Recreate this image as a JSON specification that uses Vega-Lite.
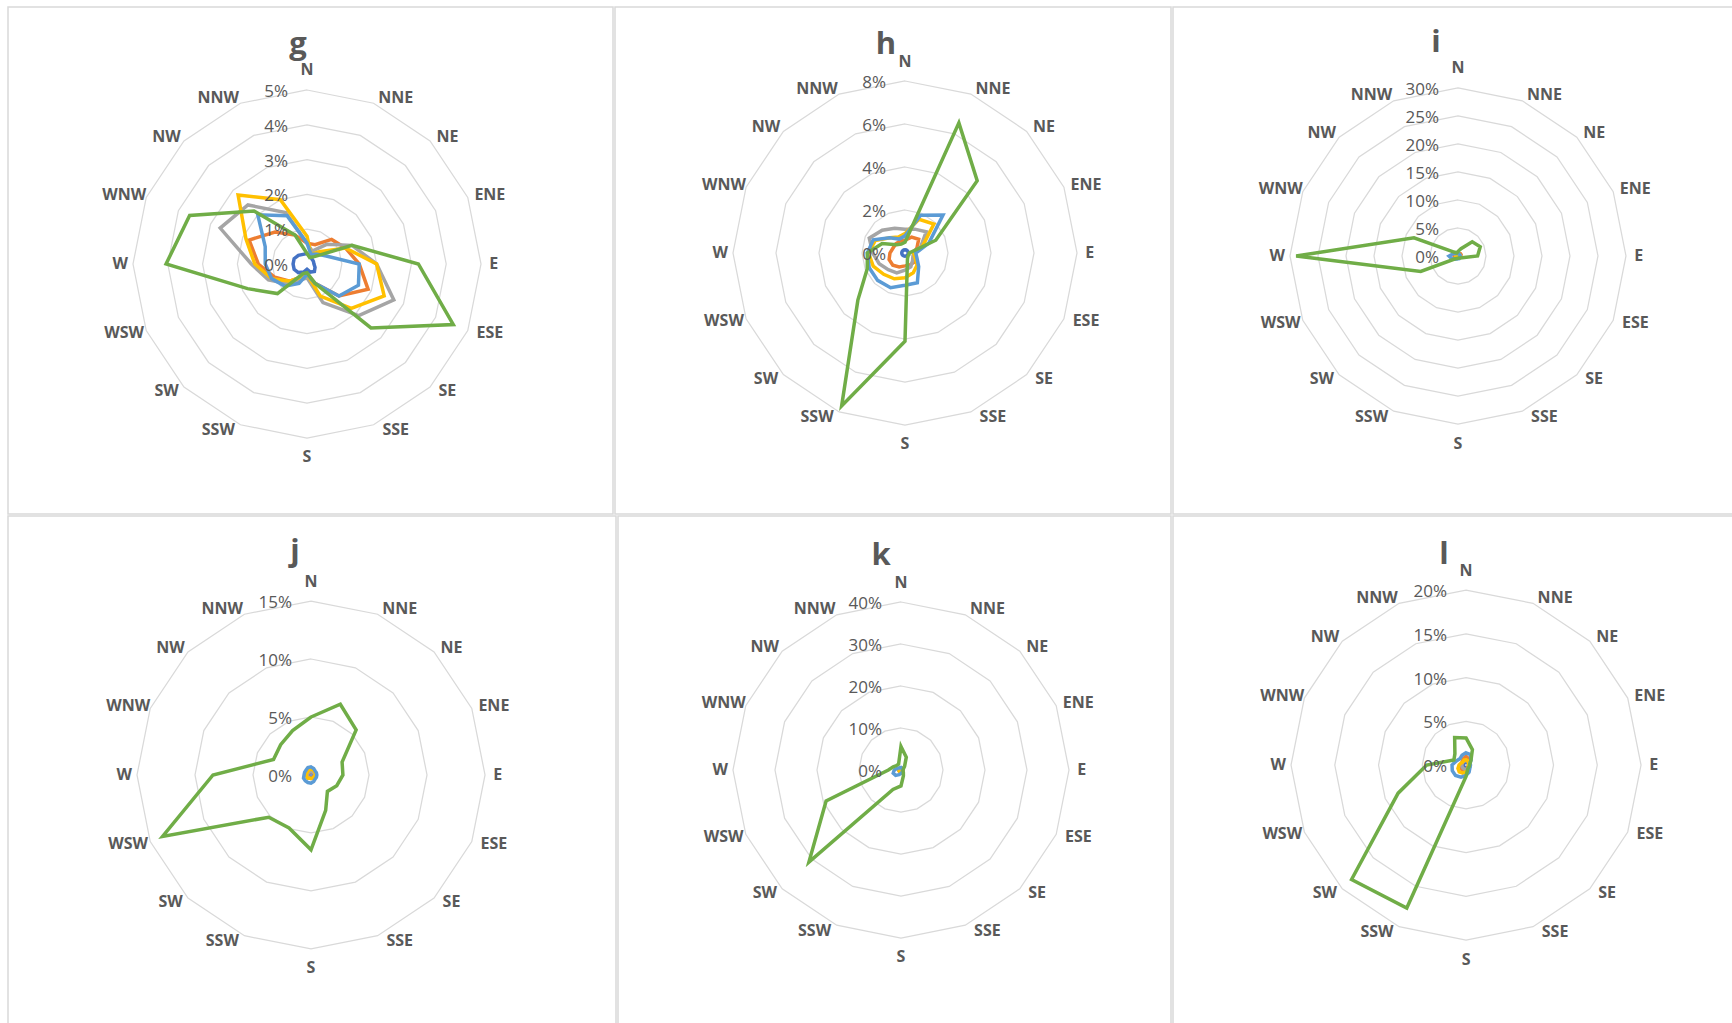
{
"$schema":"https://vega.github.io/schema/vega-lite/v6.json",
"padding":{"left":7,"top":6,"right":4,"bottom":0},
"background":"white",
"config":{"view":{"stroke":"#d9d9d9","strokeWidth":1.5},"concat":{"spacing":0}},
"datasets":{"series":[
{"p":"g","s":1,"d":"N","v":0.3},{"p":"g","s":1,"d":"NNE","v":0.25},{"p":"g","s":1,"d":"NE","v":0.2},{"p":"g","s":1,"d":"ENE","v":0.2},{"p":"g","s":1,"d":"E","v":0.2},{"p":"g","s":1,"d":"ESE","v":0.25},{"p":"g","s":1,"d":"SE","v":0.3},{"p":"g","s":1,"d":"SSE","v":0.25},{"p":"g","s":1,"d":"S","v":0.15},{"p":"g","s":1,"d":"SSW","v":0.25},{"p":"g","s":1,"d":"SW","v":0.35},{"p":"g","s":1,"d":"WSW","v":0.4},{"p":"g","s":1,"d":"W","v":0.4},{"p":"g","s":1,"d":"WNW","v":0.4},{"p":"g","s":1,"d":"NW","v":0.35},{"p":"g","s":1,"d":"NNW","v":0.3},
{"p":"g","s":2,"d":"N","v":0.6},{"p":"g","s":2,"d":"NNE","v":0.6},{"p":"g","s":2,"d":"NE","v":1.0},{"p":"g","s":2,"d":"ENE","v":1.2},{"p":"g","s":2,"d":"E","v":1.5},{"p":"g","s":2,"d":"ESE","v":1.9},{"p":"g","s":2,"d":"SE","v":1.3},{"p":"g","s":2,"d":"SSE","v":0.6},{"p":"g","s":2,"d":"S","v":0.3},{"p":"g","s":2,"d":"SSW","v":0.4},{"p":"g","s":2,"d":"SW","v":0.7},{"p":"g","s":2,"d":"WSW","v":1.0},{"p":"g","s":2,"d":"W","v":1.4},{"p":"g","s":2,"d":"WNW","v":1.8},{"p":"g","s":2,"d":"NW","v":1.3},{"p":"g","s":2,"d":"NNW","v":0.9},
{"p":"g","s":3,"d":"N","v":0.6},{"p":"g","s":3,"d":"NNE","v":0.4},{"p":"g","s":3,"d":"NE","v":0.8},{"p":"g","s":3,"d":"ENE","v":1.4},{"p":"g","s":3,"d":"E","v":2.0},{"p":"g","s":3,"d":"ESE","v":2.7},{"p":"g","s":3,"d":"SE","v":2.1},{"p":"g","s":3,"d":"SSE","v":1.2},{"p":"g","s":3,"d":"S","v":0.4},{"p":"g","s":3,"d":"SSW","v":0.5},{"p":"g","s":3,"d":"SW","v":0.8},{"p":"g","s":3,"d":"WSW","v":1.2},{"p":"g","s":3,"d":"W","v":1.6},{"p":"g","s":3,"d":"WNW","v":2.7},{"p":"g","s":3,"d":"NW","v":2.4},{"p":"g","s":3,"d":"NNW","v":1.6},
{"p":"g","s":4,"d":"N","v":0.8},{"p":"g","s":4,"d":"NNE","v":0.3},{"p":"g","s":4,"d":"NE","v":0.5},{"p":"g","s":4,"d":"ENE","v":1.2},{"p":"g","s":4,"d":"E","v":2.0},{"p":"g","s":4,"d":"ESE","v":2.4},{"p":"g","s":4,"d":"SE","v":1.8},{"p":"g","s":4,"d":"SSE","v":1.0},{"p":"g","s":4,"d":"S","v":0.3},{"p":"g","s":4,"d":"SSW","v":0.4},{"p":"g","s":4,"d":"SW","v":0.7},{"p":"g","s":4,"d":"WSW","v":1.1},{"p":"g","s":4,"d":"W","v":1.5},{"p":"g","s":4,"d":"WNW","v":1.9},{"p":"g","s":4,"d":"NW","v":2.8},{"p":"g","s":4,"d":"NNW","v":2.0},
{"p":"g","s":5,"d":"N","v":0.6},{"p":"g","s":5,"d":"NNE","v":0.3},{"p":"g","s":5,"d":"NE","v":0.4},{"p":"g","s":5,"d":"ENE","v":0.6},{"p":"g","s":5,"d":"E","v":1.5},{"p":"g","s":5,"d":"ESE","v":1.6},{"p":"g","s":5,"d":"SE","v":1.3},{"p":"g","s":5,"d":"SSE","v":0.6},{"p":"g","s":5,"d":"S","v":0.3},{"p":"g","s":5,"d":"SSW","v":0.6},{"p":"g","s":5,"d":"SW","v":0.9},{"p":"g","s":5,"d":"WSW","v":1.1},{"p":"g","s":5,"d":"W","v":1.2},{"p":"g","s":5,"d":"WNW","v":1.3},{"p":"g","s":5,"d":"NW","v":2.0},{"p":"g","s":5,"d":"NNW","v":1.5},
{"p":"g","s":6,"d":"N","v":0.3},{"p":"g","s":6,"d":"NNE","v":0.2},{"p":"g","s":6,"d":"NE","v":0.3},{"p":"g","s":6,"d":"ENE","v":1.4},{"p":"g","s":6,"d":"E","v":3.2},{"p":"g","s":6,"d":"ESE","v":4.55},{"p":"g","s":6,"d":"SE","v":2.6},{"p":"g","s":6,"d":"SSE","v":0.6},{"p":"g","s":6,"d":"S","v":0.25},{"p":"g","s":6,"d":"SSW","v":0.3},{"p":"g","s":6,"d":"SW","v":1.2},{"p":"g","s":6,"d":"WSW","v":1.85},{"p":"g","s":6,"d":"W","v":4.05},{"p":"g","s":6,"d":"WNW","v":3.65},{"p":"g","s":6,"d":"NW","v":2.15},{"p":"g","s":6,"d":"NNW","v":0.9},
{"p":"h","s":1,"d":"N","v":0.15},{"p":"h","s":1,"d":"NNE","v":0.15},{"p":"h","s":1,"d":"NE","v":0.15},{"p":"h","s":1,"d":"ENE","v":0.15},{"p":"h","s":1,"d":"E","v":0.15},{"p":"h","s":1,"d":"ESE","v":0.15},{"p":"h","s":1,"d":"SE","v":0.15},{"p":"h","s":1,"d":"SSE","v":0.15},{"p":"h","s":1,"d":"S","v":0.15},{"p":"h","s":1,"d":"SSW","v":0.15},{"p":"h","s":1,"d":"SW","v":0.15},{"p":"h","s":1,"d":"WSW","v":0.15},{"p":"h","s":1,"d":"W","v":0.15},{"p":"h","s":1,"d":"WNW","v":0.15},{"p":"h","s":1,"d":"NW","v":0.15},{"p":"h","s":1,"d":"NNW","v":0.15},
{"p":"h","s":2,"d":"N","v":0.6},{"p":"h","s":2,"d":"NNE","v":0.8},{"p":"h","s":2,"d":"NE","v":0.9},{"p":"h","s":2,"d":"ENE","v":0.6},{"p":"h","s":2,"d":"E","v":0.4},{"p":"h","s":2,"d":"ESE","v":0.5},{"p":"h","s":2,"d":"SE","v":0.6},{"p":"h","s":2,"d":"SSE","v":0.6},{"p":"h","s":2,"d":"S","v":0.6},{"p":"h","s":2,"d":"SSW","v":0.7},{"p":"h","s":2,"d":"SW","v":0.8},{"p":"h","s":2,"d":"WSW","v":0.8},{"p":"h","s":2,"d":"W","v":0.7},{"p":"h","s":2,"d":"WNW","v":0.6},{"p":"h","s":2,"d":"NW","v":0.6},{"p":"h","s":2,"d":"NNW","v":0.6},
{"p":"h","s":3,"d":"N","v":1.1},{"p":"h","s":3,"d":"NNE","v":1.2},{"p":"h","s":3,"d":"NE","v":1.4},{"p":"h","s":3,"d":"ENE","v":0.8},{"p":"h","s":3,"d":"E","v":0.4},{"p":"h","s":3,"d":"ESE","v":0.4},{"p":"h","s":3,"d":"SE","v":0.5},{"p":"h","s":3,"d":"SSE","v":0.7},{"p":"h","s":3,"d":"S","v":0.8},{"p":"h","s":3,"d":"SSW","v":1.0},{"p":"h","s":3,"d":"SW","v":1.1},{"p":"h","s":3,"d":"WSW","v":1.3},{"p":"h","s":3,"d":"W","v":1.5},{"p":"h","s":3,"d":"WNW","v":1.8},{"p":"h","s":3,"d":"NW","v":1.5},{"p":"h","s":3,"d":"NNW","v":1.25},
{"p":"h","s":4,"d":"N","v":0.9},{"p":"h","s":4,"d":"NNE","v":1.7},{"p":"h","s":4,"d":"NE","v":1.9},{"p":"h","s":4,"d":"ENE","v":0.9},{"p":"h","s":4,"d":"E","v":0.4},{"p":"h","s":4,"d":"ESE","v":0.5},{"p":"h","s":4,"d":"SE","v":0.8},{"p":"h","s":4,"d":"SSE","v":1.0},{"p":"h","s":4,"d":"S","v":1.15},{"p":"h","s":4,"d":"SSW","v":1.3},{"p":"h","s":4,"d":"SW","v":1.4},{"p":"h","s":4,"d":"WSW","v":1.6},{"p":"h","s":4,"d":"W","v":1.7},{"p":"h","s":4,"d":"WNW","v":1.5},{"p":"h","s":4,"d":"NW","v":1.0},{"p":"h","s":4,"d":"NNW","v":0.8},
{"p":"h","s":5,"d":"N","v":0.8},{"p":"h","s":5,"d":"NNE","v":1.9},{"p":"h","s":5,"d":"NE","v":2.5},{"p":"h","s":5,"d":"ENE","v":1.2},{"p":"h","s":5,"d":"E","v":0.5},{"p":"h","s":5,"d":"ESE","v":0.6},{"p":"h","s":5,"d":"SE","v":0.9},{"p":"h","s":5,"d":"SSE","v":1.5},{"p":"h","s":5,"d":"S","v":1.5},{"p":"h","s":5,"d":"SSW","v":1.75},{"p":"h","s":5,"d":"SW","v":1.8},{"p":"h","s":5,"d":"WSW","v":1.8},{"p":"h","s":5,"d":"W","v":1.75},{"p":"h","s":5,"d":"WNW","v":1.6},{"p":"h","s":5,"d":"NW","v":1.0},{"p":"h","s":5,"d":"NNW","v":0.7},
{"p":"h","s":6,"d":"N","v":0.5},{"p":"h","s":6,"d":"NNE","v":6.55},{"p":"h","s":6,"d":"NE","v":4.75},{"p":"h","s":6,"d":"ENE","v":1.55},{"p":"h","s":6,"d":"E","v":0.2},{"p":"h","s":6,"d":"ESE","v":0.2},{"p":"h","s":6,"d":"SE","v":0.2},{"p":"h","s":6,"d":"SSE","v":0.3},{"p":"h","s":6,"d":"S","v":4.1},{"p":"h","s":6,"d":"SSW","v":7.7},{"p":"h","s":6,"d":"SW","v":3.1},{"p":"h","s":6,"d":"WSW","v":1.9},{"p":"h","s":6,"d":"W","v":1.75},{"p":"h","s":6,"d":"WNW","v":1.15},{"p":"h","s":6,"d":"NW","v":0.55},{"p":"h","s":6,"d":"NNW","v":0.45},
{"p":"i","s":1,"d":"N","v":0.3},{"p":"i","s":1,"d":"NNE","v":0.3},{"p":"i","s":1,"d":"NE","v":0.3},{"p":"i","s":1,"d":"ENE","v":0.3},{"p":"i","s":1,"d":"E","v":0.3},{"p":"i","s":1,"d":"ESE","v":0.3},{"p":"i","s":1,"d":"SE","v":0.3},{"p":"i","s":1,"d":"SSE","v":0.3},{"p":"i","s":1,"d":"S","v":0.3},{"p":"i","s":1,"d":"SSW","v":0.3},{"p":"i","s":1,"d":"SW","v":0.3},{"p":"i","s":1,"d":"WSW","v":0.3},{"p":"i","s":1,"d":"W","v":0.3},{"p":"i","s":1,"d":"WNW","v":0.3},{"p":"i","s":1,"d":"NW","v":0.3},{"p":"i","s":1,"d":"NNW","v":0.3},
{"p":"i","s":2,"d":"N","v":0.5},{"p":"i","s":2,"d":"NNE","v":0.5},{"p":"i","s":2,"d":"NE","v":0.6},{"p":"i","s":2,"d":"ENE","v":0.6},{"p":"i","s":2,"d":"E","v":0.5},{"p":"i","s":2,"d":"ESE","v":0.4},{"p":"i","s":2,"d":"SE","v":0.4},{"p":"i","s":2,"d":"SSE","v":0.4},{"p":"i","s":2,"d":"S","v":0.4},{"p":"i","s":2,"d":"SSW","v":0.4},{"p":"i","s":2,"d":"SW","v":0.5},{"p":"i","s":2,"d":"WSW","v":0.6},{"p":"i","s":2,"d":"W","v":0.7},{"p":"i","s":2,"d":"WNW","v":0.6},{"p":"i","s":2,"d":"NW","v":0.5},{"p":"i","s":2,"d":"NNW","v":0.5},
{"p":"i","s":3,"d":"N","v":0.4},{"p":"i","s":3,"d":"NNE","v":0.4},{"p":"i","s":3,"d":"NE","v":0.4},{"p":"i","s":3,"d":"ENE","v":0.4},{"p":"i","s":3,"d":"E","v":0.4},{"p":"i","s":3,"d":"ESE","v":0.4},{"p":"i","s":3,"d":"SE","v":0.4},{"p":"i","s":3,"d":"SSE","v":0.4},{"p":"i","s":3,"d":"S","v":0.4},{"p":"i","s":3,"d":"SSW","v":0.4},{"p":"i","s":3,"d":"SW","v":0.4},{"p":"i","s":3,"d":"WSW","v":0.4},{"p":"i","s":3,"d":"W","v":0.4},{"p":"i","s":3,"d":"WNW","v":0.4},{"p":"i","s":3,"d":"NW","v":0.4},{"p":"i","s":3,"d":"NNW","v":0.4},
{"p":"i","s":4,"d":"N","v":0.4},{"p":"i","s":4,"d":"NNE","v":0.4},{"p":"i","s":4,"d":"NE","v":0.4},{"p":"i","s":4,"d":"ENE","v":0.4},{"p":"i","s":4,"d":"E","v":0.4},{"p":"i","s":4,"d":"ESE","v":0.4},{"p":"i","s":4,"d":"SE","v":0.4},{"p":"i","s":4,"d":"SSE","v":0.4},{"p":"i","s":4,"d":"S","v":0.4},{"p":"i","s":4,"d":"SSW","v":0.4},{"p":"i","s":4,"d":"SW","v":0.4},{"p":"i","s":4,"d":"WSW","v":0.4},{"p":"i","s":4,"d":"W","v":0.4},{"p":"i","s":4,"d":"WNW","v":0.4},{"p":"i","s":4,"d":"NW","v":0.4},{"p":"i","s":4,"d":"NNW","v":0.4},
{"p":"i","s":5,"d":"N","v":0.5},{"p":"i","s":5,"d":"NNE","v":0.4},{"p":"i","s":5,"d":"NE","v":0.4},{"p":"i","s":5,"d":"ENE","v":0.4},{"p":"i","s":5,"d":"E","v":0.4},{"p":"i","s":5,"d":"ESE","v":0.4},{"p":"i","s":5,"d":"SE","v":0.4},{"p":"i","s":5,"d":"SSE","v":0.5},{"p":"i","s":5,"d":"S","v":0.5},{"p":"i","s":5,"d":"SSW","v":0.6},{"p":"i","s":5,"d":"SW","v":0.8},{"p":"i","s":5,"d":"WSW","v":1.2},{"p":"i","s":5,"d":"W","v":1.6},{"p":"i","s":5,"d":"WNW","v":1.0},{"p":"i","s":5,"d":"NW","v":0.6},{"p":"i","s":5,"d":"NNW","v":0.5},
{"p":"i","s":6,"d":"N","v":0.8},{"p":"i","s":6,"d":"NNE","v":1.4},{"p":"i","s":6,"d":"NE","v":3.6},{"p":"i","s":6,"d":"ENE","v":4.3},{"p":"i","s":6,"d":"E","v":3.5},{"p":"i","s":6,"d":"ESE","v":0.8},{"p":"i","s":6,"d":"SE","v":0.5},{"p":"i","s":6,"d":"SSE","v":0.4},{"p":"i","s":6,"d":"S","v":0.4},{"p":"i","s":6,"d":"SSW","v":0.5},{"p":"i","s":6,"d":"SW","v":0.7},{"p":"i","s":6,"d":"WSW","v":7.2},{"p":"i","s":6,"d":"W","v":28.9},{"p":"i","s":6,"d":"WNW","v":8.5},{"p":"i","s":6,"d":"NW","v":1.0},{"p":"i","s":6,"d":"NNW","v":0.6},
{"p":"j","s":1,"d":"N","v":0.2},{"p":"j","s":1,"d":"NNE","v":0.2},{"p":"j","s":1,"d":"NE","v":0.2},{"p":"j","s":1,"d":"ENE","v":0.2},{"p":"j","s":1,"d":"E","v":0.2},{"p":"j","s":1,"d":"ESE","v":0.2},{"p":"j","s":1,"d":"SE","v":0.2},{"p":"j","s":1,"d":"SSE","v":0.2},{"p":"j","s":1,"d":"S","v":0.2},{"p":"j","s":1,"d":"SSW","v":0.2},{"p":"j","s":1,"d":"SW","v":0.2},{"p":"j","s":1,"d":"WSW","v":0.2},{"p":"j","s":1,"d":"W","v":0.2},{"p":"j","s":1,"d":"WNW","v":0.2},{"p":"j","s":1,"d":"NW","v":0.2},{"p":"j","s":1,"d":"NNW","v":0.2},
{"p":"j","s":2,"d":"N","v":0.3},{"p":"j","s":2,"d":"NNE","v":0.3},{"p":"j","s":2,"d":"NE","v":0.3},{"p":"j","s":2,"d":"ENE","v":0.3},{"p":"j","s":2,"d":"E","v":0.3},{"p":"j","s":2,"d":"ESE","v":0.3},{"p":"j","s":2,"d":"SE","v":0.3},{"p":"j","s":2,"d":"SSE","v":0.3},{"p":"j","s":2,"d":"S","v":0.3},{"p":"j","s":2,"d":"SSW","v":0.3},{"p":"j","s":2,"d":"SW","v":0.3},{"p":"j","s":2,"d":"WSW","v":0.3},{"p":"j","s":2,"d":"W","v":0.3},{"p":"j","s":2,"d":"WNW","v":0.3},{"p":"j","s":2,"d":"NW","v":0.3},{"p":"j","s":2,"d":"NNW","v":0.3},
{"p":"j","s":3,"d":"N","v":0.3},{"p":"j","s":3,"d":"NNE","v":0.3},{"p":"j","s":3,"d":"NE","v":0.3},{"p":"j","s":3,"d":"ENE","v":0.3},{"p":"j","s":3,"d":"E","v":0.3},{"p":"j","s":3,"d":"ESE","v":0.3},{"p":"j","s":3,"d":"SE","v":0.3},{"p":"j","s":3,"d":"SSE","v":0.3},{"p":"j","s":3,"d":"S","v":0.3},{"p":"j","s":3,"d":"SSW","v":0.3},{"p":"j","s":3,"d":"SW","v":0.3},{"p":"j","s":3,"d":"WSW","v":0.3},{"p":"j","s":3,"d":"W","v":0.3},{"p":"j","s":3,"d":"WNW","v":0.3},{"p":"j","s":3,"d":"NW","v":0.3},{"p":"j","s":3,"d":"NNW","v":0.3},
{"p":"j","s":4,"d":"N","v":0.5},{"p":"j","s":4,"d":"NNE","v":0.5},{"p":"j","s":4,"d":"NE","v":0.4},{"p":"j","s":4,"d":"ENE","v":0.4},{"p":"j","s":4,"d":"E","v":0.4},{"p":"j","s":4,"d":"ESE","v":0.3},{"p":"j","s":4,"d":"SE","v":0.3},{"p":"j","s":4,"d":"SSE","v":0.3},{"p":"j","s":4,"d":"S","v":0.3},{"p":"j","s":4,"d":"SSW","v":0.3},{"p":"j","s":4,"d":"SW","v":0.4},{"p":"j","s":4,"d":"WSW","v":0.4},{"p":"j","s":4,"d":"W","v":0.4},{"p":"j","s":4,"d":"WNW","v":0.4},{"p":"j","s":4,"d":"NW","v":0.4},{"p":"j","s":4,"d":"NNW","v":0.5},
{"p":"j","s":5,"d":"N","v":0.7},{"p":"j","s":5,"d":"NNE","v":0.6},{"p":"j","s":5,"d":"NE","v":0.5},{"p":"j","s":5,"d":"ENE","v":0.5},{"p":"j","s":5,"d":"E","v":0.5},{"p":"j","s":5,"d":"ESE","v":0.5},{"p":"j","s":5,"d":"SE","v":0.5},{"p":"j","s":5,"d":"SSE","v":0.6},{"p":"j","s":5,"d":"S","v":0.7},{"p":"j","s":5,"d":"SSW","v":0.7},{"p":"j","s":5,"d":"SW","v":0.7},{"p":"j","s":5,"d":"WSW","v":0.7},{"p":"j","s":5,"d":"W","v":0.6},{"p":"j","s":5,"d":"WNW","v":0.6},{"p":"j","s":5,"d":"NW","v":0.6},{"p":"j","s":5,"d":"NNW","v":0.7},
{"p":"j","s":6,"d":"N","v":5.0},{"p":"j","s":6,"d":"NNE","v":6.6},{"p":"j","s":6,"d":"NE","v":5.5},{"p":"j","s":6,"d":"ENE","v":2.9},{"p":"j","s":6,"d":"E","v":2.75},{"p":"j","s":6,"d":"ESE","v":2.4},{"p":"j","s":6,"d":"SE","v":2.0},{"p":"j","s":6,"d":"SSE","v":3.3},{"p":"j","s":6,"d":"S","v":6.45},{"p":"j","s":6,"d":"SSW","v":4.95},{"p":"j","s":6,"d":"SW","v":5.15},{"p":"j","s":6,"d":"WSW","v":13.85},{"p":"j","s":6,"d":"W","v":8.45},{"p":"j","s":6,"d":"WNW","v":3.5},{"p":"j","s":6,"d":"NW","v":3.7},{"p":"j","s":6,"d":"NNW","v":4.15},
{"p":"k","s":1,"d":"N","v":0.4},{"p":"k","s":1,"d":"NNE","v":0.4},{"p":"k","s":1,"d":"NE","v":0.4},{"p":"k","s":1,"d":"ENE","v":0.4},{"p":"k","s":1,"d":"E","v":0.4},{"p":"k","s":1,"d":"ESE","v":0.4},{"p":"k","s":1,"d":"SE","v":0.4},{"p":"k","s":1,"d":"SSE","v":0.4},{"p":"k","s":1,"d":"S","v":0.4},{"p":"k","s":1,"d":"SSW","v":0.4},{"p":"k","s":1,"d":"SW","v":0.4},{"p":"k","s":1,"d":"WSW","v":0.4},{"p":"k","s":1,"d":"W","v":0.4},{"p":"k","s":1,"d":"WNW","v":0.4},{"p":"k","s":1,"d":"NW","v":0.4},{"p":"k","s":1,"d":"NNW","v":0.4},
{"p":"k","s":2,"d":"N","v":0.5},{"p":"k","s":2,"d":"NNE","v":0.5},{"p":"k","s":2,"d":"NE","v":0.5},{"p":"k","s":2,"d":"ENE","v":0.5},{"p":"k","s":2,"d":"E","v":0.5},{"p":"k","s":2,"d":"ESE","v":0.5},{"p":"k","s":2,"d":"SE","v":0.5},{"p":"k","s":2,"d":"SSE","v":0.5},{"p":"k","s":2,"d":"S","v":0.5},{"p":"k","s":2,"d":"SSW","v":0.5},{"p":"k","s":2,"d":"SW","v":0.5},{"p":"k","s":2,"d":"WSW","v":0.5},{"p":"k","s":2,"d":"W","v":0.5},{"p":"k","s":2,"d":"WNW","v":0.5},{"p":"k","s":2,"d":"NW","v":0.5},{"p":"k","s":2,"d":"NNW","v":0.5},
{"p":"k","s":3,"d":"N","v":0.5},{"p":"k","s":3,"d":"NNE","v":0.5},{"p":"k","s":3,"d":"NE","v":0.5},{"p":"k","s":3,"d":"ENE","v":0.5},{"p":"k","s":3,"d":"E","v":0.5},{"p":"k","s":3,"d":"ESE","v":0.5},{"p":"k","s":3,"d":"SE","v":0.5},{"p":"k","s":3,"d":"SSE","v":0.5},{"p":"k","s":3,"d":"S","v":0.5},{"p":"k","s":3,"d":"SSW","v":0.5},{"p":"k","s":3,"d":"SW","v":0.5},{"p":"k","s":3,"d":"WSW","v":0.5},{"p":"k","s":3,"d":"W","v":0.5},{"p":"k","s":3,"d":"WNW","v":0.5},{"p":"k","s":3,"d":"NW","v":0.5},{"p":"k","s":3,"d":"NNW","v":0.5},
{"p":"k","s":4,"d":"N","v":0.5},{"p":"k","s":4,"d":"NNE","v":0.5},{"p":"k","s":4,"d":"NE","v":0.5},{"p":"k","s":4,"d":"ENE","v":0.5},{"p":"k","s":4,"d":"E","v":0.5},{"p":"k","s":4,"d":"ESE","v":0.5},{"p":"k","s":4,"d":"SE","v":0.5},{"p":"k","s":4,"d":"SSE","v":0.5},{"p":"k","s":4,"d":"S","v":0.5},{"p":"k","s":4,"d":"SSW","v":0.5},{"p":"k","s":4,"d":"SW","v":0.5},{"p":"k","s":4,"d":"WSW","v":0.5},{"p":"k","s":4,"d":"W","v":0.5},{"p":"k","s":4,"d":"WNW","v":0.5},{"p":"k","s":4,"d":"NW","v":0.5},{"p":"k","s":4,"d":"NNW","v":0.5},
{"p":"k","s":5,"d":"N","v":0.6},{"p":"k","s":5,"d":"NNE","v":0.5},{"p":"k","s":5,"d":"NE","v":0.4},{"p":"k","s":5,"d":"ENE","v":0.4},{"p":"k","s":5,"d":"E","v":0.4},{"p":"k","s":5,"d":"ESE","v":0.4},{"p":"k","s":5,"d":"SE","v":0.5},{"p":"k","s":5,"d":"SSE","v":0.6},{"p":"k","s":5,"d":"S","v":0.8},{"p":"k","s":5,"d":"SSW","v":1.2},{"p":"k","s":5,"d":"SW","v":1.8},{"p":"k","s":5,"d":"WSW","v":2.0},{"p":"k","s":5,"d":"W","v":1.6},{"p":"k","s":5,"d":"WNW","v":1.0},{"p":"k","s":5,"d":"NW","v":0.7},{"p":"k","s":5,"d":"NNW","v":0.6},
{"p":"k","s":6,"d":"N","v":5.6},{"p":"k","s":6,"d":"NNE","v":3.3},{"p":"k","s":6,"d":"NE","v":1.2},{"p":"k","s":6,"d":"ENE","v":0.6},{"p":"k","s":6,"d":"E","v":0.5},{"p":"k","s":6,"d":"ESE","v":0.5},{"p":"k","s":6,"d":"SE","v":0.8},{"p":"k","s":6,"d":"SSE","v":1.5},{"p":"k","s":6,"d":"S","v":3.8},{"p":"k","s":6,"d":"SSW","v":5.0},{"p":"k","s":6,"d":"SW","v":31.0},{"p":"k","s":6,"d":"WSW","v":19.3},{"p":"k","s":6,"d":"W","v":3.0},{"p":"k","s":6,"d":"WNW","v":2.0},{"p":"k","s":6,"d":"NW","v":1.5},{"p":"k","s":6,"d":"NNW","v":1.5},
{"p":"l","s":1,"d":"N","v":0.3},{"p":"l","s":1,"d":"NNE","v":0.3},{"p":"l","s":1,"d":"NE","v":0.3},{"p":"l","s":1,"d":"ENE","v":0.3},{"p":"l","s":1,"d":"E","v":0.3},{"p":"l","s":1,"d":"ESE","v":0.3},{"p":"l","s":1,"d":"SE","v":0.3},{"p":"l","s":1,"d":"SSE","v":0.3},{"p":"l","s":1,"d":"S","v":0.3},{"p":"l","s":1,"d":"SSW","v":0.3},{"p":"l","s":1,"d":"SW","v":0.3},{"p":"l","s":1,"d":"WSW","v":0.3},{"p":"l","s":1,"d":"W","v":0.3},{"p":"l","s":1,"d":"WNW","v":0.3},{"p":"l","s":1,"d":"NW","v":0.3},{"p":"l","s":1,"d":"NNW","v":0.3},
{"p":"l","s":2,"d":"N","v":1.0},{"p":"l","s":2,"d":"NNE","v":0.8},{"p":"l","s":2,"d":"NE","v":0.5},{"p":"l","s":2,"d":"ENE","v":0.4},{"p":"l","s":2,"d":"E","v":0.4},{"p":"l","s":2,"d":"ESE","v":0.3},{"p":"l","s":2,"d":"SE","v":0.3},{"p":"l","s":2,"d":"SSE","v":0.4},{"p":"l","s":2,"d":"S","v":0.6},{"p":"l","s":2,"d":"SSW","v":0.7},{"p":"l","s":2,"d":"SW","v":0.7},{"p":"l","s":2,"d":"WSW","v":0.6},{"p":"l","s":2,"d":"W","v":0.5},{"p":"l","s":2,"d":"WNW","v":0.5},{"p":"l","s":2,"d":"NW","v":0.6},{"p":"l","s":2,"d":"NNW","v":0.8},
{"p":"l","s":3,"d":"N","v":0.5},{"p":"l","s":3,"d":"NNE","v":0.5},{"p":"l","s":3,"d":"NE","v":0.5},{"p":"l","s":3,"d":"ENE","v":0.5},{"p":"l","s":3,"d":"E","v":0.5},{"p":"l","s":3,"d":"ESE","v":0.5},{"p":"l","s":3,"d":"SE","v":0.5},{"p":"l","s":3,"d":"SSE","v":0.5},{"p":"l","s":3,"d":"S","v":0.5},{"p":"l","s":3,"d":"SSW","v":0.5},{"p":"l","s":3,"d":"SW","v":0.5},{"p":"l","s":3,"d":"WSW","v":0.5},{"p":"l","s":3,"d":"W","v":0.5},{"p":"l","s":3,"d":"WNW","v":0.5},{"p":"l","s":3,"d":"NW","v":0.5},{"p":"l","s":3,"d":"NNW","v":0.5},
{"p":"l","s":4,"d":"N","v":0.6},{"p":"l","s":4,"d":"NNE","v":0.5},{"p":"l","s":4,"d":"NE","v":0.4},{"p":"l","s":4,"d":"ENE","v":0.3},{"p":"l","s":4,"d":"E","v":0.3},{"p":"l","s":4,"d":"ESE","v":0.3},{"p":"l","s":4,"d":"SE","v":0.4},{"p":"l","s":4,"d":"SSE","v":0.6},{"p":"l","s":4,"d":"S","v":0.8},{"p":"l","s":4,"d":"SSW","v":1.0},{"p":"l","s":4,"d":"SW","v":1.1},{"p":"l","s":4,"d":"WSW","v":1.0},{"p":"l","s":4,"d":"W","v":0.8},{"p":"l","s":4,"d":"WNW","v":0.6},{"p":"l","s":4,"d":"NW","v":0.5},{"p":"l","s":4,"d":"NNW","v":0.6},
{"p":"l","s":5,"d":"N","v":1.4},{"p":"l","s":5,"d":"NNE","v":1.3},{"p":"l","s":5,"d":"NE","v":0.8},{"p":"l","s":5,"d":"ENE","v":0.5},{"p":"l","s":5,"d":"E","v":0.5},{"p":"l","s":5,"d":"ESE","v":0.5},{"p":"l","s":5,"d":"SE","v":0.6},{"p":"l","s":5,"d":"SSE","v":0.9},{"p":"l","s":5,"d":"S","v":1.2},{"p":"l","s":5,"d":"SSW","v":1.5},{"p":"l","s":5,"d":"SW","v":1.7},{"p":"l","s":5,"d":"WSW","v":1.7},{"p":"l","s":5,"d":"W","v":1.6},{"p":"l","s":5,"d":"WNW","v":1.2},{"p":"l","s":5,"d":"NW","v":1.0},{"p":"l","s":5,"d":"NNW","v":1.2},
{"p":"l","s":6,"d":"N","v":3.1},{"p":"l","s":6,"d":"NNE","v":1.9},{"p":"l","s":6,"d":"NE","v":0.8},{"p":"l","s":6,"d":"ENE","v":0.5},{"p":"l","s":6,"d":"E","v":0.4},{"p":"l","s":6,"d":"ESE","v":0.4},{"p":"l","s":6,"d":"SE","v":0.4},{"p":"l","s":6,"d":"SSE","v":0.5},{"p":"l","s":6,"d":"S","v":1.3},{"p":"l","s":6,"d":"SSW","v":17.7},{"p":"l","s":6,"d":"SW","v":18.5},{"p":"l","s":6,"d":"WSW","v":8.4},{"p":"l","s":6,"d":"W","v":4.5},{"p":"l","s":6,"d":"WNW","v":1.5},{"p":"l","s":6,"d":"NW","v":1.8},{"p":"l","s":6,"d":"NNW","v":3.4}
]},
"spacing":0,
"vconcat":[
{"spacing":0,"hconcat":[
{"width":605,"height":507,
"data":{"name":"series"},
"transform":[{"filter":"datum.p=='g'"},{"calculate":"indexof(['N','NNE','NE','ENE','E','ESE','SE','SSE','S','SSW','SW','WSW','W','WNW','NW','NNW'],datum.d)","as":"k"},{"calculate":"datum.k*PI/8","as":"a"}],
"encoding":{"x":{"field":"x","type":"quantitative","axis":null,"scale":{"domain":[-8.592,8.793]}},"y":{"field":"y","type":"quantitative","axis":null,"scale":{"domain":[-7.184,7.385]}}},
"layer":[
{"transform":[{"filter":"datum.s==1"},{"calculate":"[1,2,3,4,5]","as":"l"},{"flatten":["l"]},{"calculate":"datum.l*sin(datum.a)","as":"x"},{"calculate":"datum.l*cos(datum.a)","as":"y"}],"mark":{"type":"line","interpolate":"linear-closed","color":"#d9d9d9","strokeWidth":1.25},"encoding":{"detail":{"field":"l","type":"nominal"},"order":{"field":"k","type":"quantitative"}}},
{"transform":[{"calculate":"datum.v*sin(datum.a)","as":"x"},{"calculate":"datum.v*cos(datum.a)","as":"y"}],"mark":{"type":"line","interpolate":"linear-closed","strokeWidth":3.5},"encoding":{"color":{"field":"s","type":"nominal","legend":null,"scale":{"domain":[1,2,3,4,5,6],"range":["#4472C4","#ED7D31","#A5A5A5","#FFC000","#5B9BD5","#70AD47"]}},"order":{"field":"k","type":"quantitative"}}},
{"transform":[{"filter":"datum.s==1 && datum.d=='N'"},{"calculate":"[0,1,2,3,4,5]","as":"l"},{"flatten":["l"]},{"calculate":"0","as":"x"},{"calculate":"datum.l","as":"y"},{"calculate":"datum.l+'%'","as":"t"}],"mark":{"type":"text","align":"right","baseline":"middle","dx":-19,"dy":2,"fontSize":17,"color":"#595959","font":"Open Sans"},"encoding":{"text":{"field":"t"}}},
{"transform":[{"filter":"datum.s==1"},{"calculate":"sin(datum.a)>0.01?1:(sin(datum.a)<-0.01?-1:0)","as":"sg"},{"calculate":"5*sin(datum.a)+datum.sg*(8+4.7*length(datum.d))*5/174","as":"x"},{"calculate":"5*cos(datum.a)+(datum.sg==0?19.5:6)*cos(datum.a)*5/174","as":"y"}],"mark":{"type":"text","align":"center","baseline":"middle","fontSize":16,"fontWeight":"bold","color":"#595959","font":"Open Sans"},"encoding":{"text":{"field":"d"}}},
{"transform":[{"filter":"datum.s==1 && datum.d=='N'"},{"calculate":"0","as":"x"},{"calculate":"6.034","as":"y"},{"calculate":"'g'","as":"t"}],"mark":{"type":"text","align":"center","baseline":"alphabetic","dx":-9,"fontSize":31,"fontWeight":"bold","color":"#595959","font":"Open Sans"},"encoding":{"text":{"field":"t"}}}
]},
{"width":556,"height":507,
"data":{"name":"series"},
"transform":[{"filter":"datum.p=='h'"},{"calculate":"indexof(['N','NNE','NE','ENE','E','ESE','SE','SSE','S','SSW','SW','WSW','W','WNW','NW','NNW'],datum.d)","as":"k"},{"calculate":"datum.k*PI/8","as":"a"}],
"encoding":{"x":{"field":"x","type":"quantitative","axis":null,"scale":{"domain":[-13.488,12.372]}},"y":{"field":"y","type":"quantitative","axis":null,"scale":{"domain":[-12.14,11.442]}}},
"layer":[
{"transform":[{"filter":"datum.s==1"},{"calculate":"[2,4,6,8]","as":"l"},{"flatten":["l"]},{"calculate":"datum.l*sin(datum.a)","as":"x"},{"calculate":"datum.l*cos(datum.a)","as":"y"}],"mark":{"type":"line","interpolate":"linear-closed","color":"#d9d9d9","strokeWidth":1.25},"encoding":{"detail":{"field":"l","type":"nominal"},"order":{"field":"k","type":"quantitative"}}},
{"transform":[{"calculate":"datum.v*sin(datum.a)","as":"x"},{"calculate":"datum.v*cos(datum.a)","as":"y"}],"mark":{"type":"line","interpolate":"linear-closed","strokeWidth":3.5},"encoding":{"color":{"field":"s","type":"nominal","legend":null,"scale":{"domain":[1,2,3,4,5,6],"range":["#4472C4","#ED7D31","#A5A5A5","#FFC000","#5B9BD5","#70AD47"]}},"order":{"field":"k","type":"quantitative"}}},
{"transform":[{"filter":"datum.s==1 && datum.d=='N'"},{"calculate":"[0,2,4,6,8]","as":"l"},{"flatten":["l"]},{"calculate":"0","as":"x"},{"calculate":"datum.l","as":"y"},{"calculate":"datum.l+'%'","as":"t"}],"mark":{"type":"text","align":"right","baseline":"middle","dx":-19,"dy":2,"fontSize":17,"color":"#595959","font":"Open Sans"},"encoding":{"text":{"field":"t"}}},
{"transform":[{"filter":"datum.s==1"},{"calculate":"sin(datum.a)>0.01?1:(sin(datum.a)<-0.01?-1:0)","as":"sg"},{"calculate":"8*sin(datum.a)+datum.sg*(8+4.7*length(datum.d))*8/172","as":"x"},{"calculate":"8*cos(datum.a)+(datum.sg==0?19.5:6)*cos(datum.a)*8/172","as":"y"}],"mark":{"type":"text","align":"center","baseline":"middle","fontSize":16,"fontWeight":"bold","color":"#595959","font":"Open Sans"},"encoding":{"text":{"field":"d"}}},
{"transform":[{"filter":"datum.s==1 && datum.d=='N'"},{"calculate":"0","as":"x"},{"calculate":"9.256","as":"y"},{"calculate":"'h'","as":"t"}],"mark":{"type":"text","align":"center","baseline":"alphabetic","dx":-19,"fontSize":31,"fontWeight":"bold","color":"#595959","font":"Open Sans"},"encoding":{"text":{"field":"t"}}}
]},
{"width":560,"height":507,
"data":{"name":"series"},
"transform":[{"filter":"datum.p=='i'"},{"calculate":"indexof(['N','NNE','NE','ENE','E','ESE','SE','SSE','S','SSW','SW','WSW','W','WNW','NW','NNW'],datum.d)","as":"k"},{"calculate":"datum.k*PI/8","as":"a"}],
"encoding":{"x":{"field":"x","type":"quantitative","axis":null,"scale":{"domain":[-50.89,49.11]}},"y":{"field":"y","type":"quantitative","axis":null,"scale":{"domain":[-46.07,44.46]}}},
"layer":[
{"transform":[{"filter":"datum.s==1"},{"calculate":"[5,10,15,20,25,30]","as":"l"},{"flatten":["l"]},{"calculate":"datum.l*sin(datum.a)","as":"x"},{"calculate":"datum.l*cos(datum.a)","as":"y"}],"mark":{"type":"line","interpolate":"linear-closed","color":"#d9d9d9","strokeWidth":1.25},"encoding":{"detail":{"field":"l","type":"nominal"},"order":{"field":"k","type":"quantitative"}}},
{"transform":[{"calculate":"datum.v*sin(datum.a)","as":"x"},{"calculate":"datum.v*cos(datum.a)","as":"y"}],"mark":{"type":"line","interpolate":"linear-closed","strokeWidth":3.5},"encoding":{"color":{"field":"s","type":"nominal","legend":null,"scale":{"domain":[1,2,3,4,5,6],"range":["#4472C4","#ED7D31","#A5A5A5","#FFC000","#5B9BD5","#70AD47"]}},"order":{"field":"k","type":"quantitative"}}},
{"transform":[{"filter":"datum.s==1 && datum.d=='N'"},{"calculate":"[0,5,10,15,20,25,30]","as":"l"},{"flatten":["l"]},{"calculate":"0","as":"x"},{"calculate":"datum.l","as":"y"},{"calculate":"datum.l+'%'","as":"t"}],"mark":{"type":"text","align":"right","baseline":"middle","dx":-19,"dy":2,"fontSize":17,"color":"#595959","font":"Open Sans"},"encoding":{"text":{"field":"t"}}},
{"transform":[{"filter":"datum.s==1"},{"calculate":"sin(datum.a)>0.01?1:(sin(datum.a)<-0.01?-1:0)","as":"sg"},{"calculate":"30*sin(datum.a)+datum.sg*(8+4.7*length(datum.d))*30/168","as":"x"},{"calculate":"30*cos(datum.a)+(datum.sg==0?19.5:6)*cos(datum.a)*30/168","as":"y"}],"mark":{"type":"text","align":"center","baseline":"middle","fontSize":16,"fontWeight":"bold","color":"#595959","font":"Open Sans"},"encoding":{"text":{"field":"d"}}},
{"transform":[{"filter":"datum.s==1 && datum.d=='N'"},{"calculate":"0","as":"x"},{"calculate":"36.43","as":"y"},{"calculate":"'i'","as":"t"}],"mark":{"type":"text","align":"center","baseline":"alphabetic","dx":-22,"fontSize":31,"fontWeight":"bold","color":"#595959","font":"Open Sans"},"encoding":{"text":{"field":"t"}}}
]}
]},
{"spacing":0,"hconcat":[
{"width":608,"height":508,
"data":{"name":"series"},
"transform":[{"filter":"datum.p=='j'"},{"calculate":"indexof(['N','NNE','NE','ENE','E','ESE','SE','SSE','S','SSW','SW','WSW','W','WNW','NW','NNW'],datum.d)","as":"k"},{"calculate":"datum.k*PI/8","as":"a"}],
"encoding":{"x":{"field":"x","type":"quantitative","axis":null,"scale":{"domain":[-26.12,26.29]}},"y":{"field":"y","type":"quantitative","axis":null,"scale":{"domain":[-21.47,22.33]}}},
"layer":[
{"transform":[{"filter":"datum.s==1"},{"calculate":"[5,10,15]","as":"l"},{"flatten":["l"]},{"calculate":"datum.l*sin(datum.a)","as":"x"},{"calculate":"datum.l*cos(datum.a)","as":"y"}],"mark":{"type":"line","interpolate":"linear-closed","color":"#d9d9d9","strokeWidth":1.25},"encoding":{"detail":{"field":"l","type":"nominal"},"order":{"field":"k","type":"quantitative"}}},
{"transform":[{"calculate":"datum.v*sin(datum.a)","as":"x"},{"calculate":"datum.v*cos(datum.a)","as":"y"}],"mark":{"type":"line","interpolate":"linear-closed","strokeWidth":3.5},"encoding":{"color":{"field":"s","type":"nominal","legend":null,"scale":{"domain":[1,2,3,4,5,6],"range":["#4472C4","#ED7D31","#A5A5A5","#FFC000","#5B9BD5","#70AD47"]}},"order":{"field":"k","type":"quantitative"}}},
{"transform":[{"filter":"datum.s==1 && datum.d=='N'"},{"calculate":"[0,5,10,15]","as":"l"},{"flatten":["l"]},{"calculate":"0","as":"x"},{"calculate":"datum.l","as":"y"},{"calculate":"datum.l+'%'","as":"t"}],"mark":{"type":"text","align":"right","baseline":"middle","dx":-19,"dy":2,"fontSize":17,"color":"#595959","font":"Open Sans"},"encoding":{"text":{"field":"t"}}},
{"transform":[{"filter":"datum.s==1"},{"calculate":"sin(datum.a)>0.01?1:(sin(datum.a)<-0.01?-1:0)","as":"sg"},{"calculate":"15*sin(datum.a)+datum.sg*(8+4.7*length(datum.d))*15/174","as":"x"},{"calculate":"15*cos(datum.a)+(datum.sg==0?19.5:6)*cos(datum.a)*15/174","as":"y"}],"mark":{"type":"text","align":"center","baseline":"middle","fontSize":16,"fontWeight":"bold","color":"#595959","font":"Open Sans"},"encoding":{"text":{"field":"d"}}},
{"transform":[{"filter":"datum.s==1 && datum.d=='N'"},{"calculate":"0","as":"x"},{"calculate":"18.45","as":"y"},{"calculate":"'j'","as":"t"}],"mark":{"type":"text","align":"center","baseline":"alphabetic","dx":-16,"fontSize":31,"fontWeight":"bold","color":"#595959","font":"Open Sans"},"encoding":{"text":{"field":"t"}}}
]},
{"width":553,"height":508,
"data":{"name":"series"},
"transform":[{"filter":"datum.p=='k'"},{"calculate":"indexof(['N','NNE','NE','ENE','E','ESE','SE','SSE','S','SSW','SW','WSW','W','WNW','NW','NNW'],datum.d)","as":"k"},{"calculate":"datum.k*PI/8","as":"a"}],
"encoding":{"x":{"field":"x","type":"quantitative","axis":null,"scale":{"domain":[-67.38,64.29]}},"y":{"field":"y","type":"quantitative","axis":null,"scale":{"domain":[-60.48,60.48]}}},
"layer":[
{"transform":[{"filter":"datum.s==1"},{"calculate":"[10,20,30,40]","as":"l"},{"flatten":["l"]},{"calculate":"datum.l*sin(datum.a)","as":"x"},{"calculate":"datum.l*cos(datum.a)","as":"y"}],"mark":{"type":"line","interpolate":"linear-closed","color":"#d9d9d9","strokeWidth":1.25},"encoding":{"detail":{"field":"l","type":"nominal"},"order":{"field":"k","type":"quantitative"}}},
{"transform":[{"calculate":"datum.v*sin(datum.a)","as":"x"},{"calculate":"datum.v*cos(datum.a)","as":"y"}],"mark":{"type":"line","interpolate":"linear-closed","strokeWidth":3.5},"encoding":{"color":{"field":"s","type":"nominal","legend":null,"scale":{"domain":[1,2,3,4,5,6],"range":["#4472C4","#ED7D31","#A5A5A5","#FFC000","#5B9BD5","#70AD47"]}},"order":{"field":"k","type":"quantitative"}}},
{"transform":[{"filter":"datum.s==1 && datum.d=='N'"},{"calculate":"[0,10,20,30,40]","as":"l"},{"flatten":["l"]},{"calculate":"0","as":"x"},{"calculate":"datum.l","as":"y"},{"calculate":"datum.l+'%'","as":"t"}],"mark":{"type":"text","align":"right","baseline":"middle","dx":-19,"dy":2,"fontSize":17,"color":"#595959","font":"Open Sans"},"encoding":{"text":{"field":"t"}}},
{"transform":[{"filter":"datum.s==1"},{"calculate":"sin(datum.a)>0.01?1:(sin(datum.a)<-0.01?-1:0)","as":"sg"},{"calculate":"40*sin(datum.a)+datum.sg*(8+4.7*length(datum.d))*40/168","as":"x"},{"calculate":"40*cos(datum.a)+(datum.sg==0?19.5:6)*cos(datum.a)*40/168","as":"y"}],"mark":{"type":"text","align":"center","baseline":"middle","fontSize":16,"fontWeight":"bold","color":"#595959","font":"Open Sans"},"encoding":{"text":{"field":"d"}}},
{"transform":[{"filter":"datum.s==1 && datum.d=='N'"},{"calculate":"0","as":"x"},{"calculate":"48.8","as":"y"},{"calculate":"'k'","as":"t"}],"mark":{"type":"text","align":"center","baseline":"alphabetic","dx":-20,"fontSize":31,"fontWeight":"bold","color":"#595959","font":"Open Sans"},"encoding":{"text":{"field":"t"}}}
]},
{"width":560,"height":508,
"data":{"name":"series"},
"transform":[{"filter":"datum.p=='l'"},{"calculate":"indexof(['N','NNE','NE','ENE','E','ESE','SE','SSE','S','SSW','SW','WSW','W','WNW','NW','NNW'],datum.d)","as":"k"},{"calculate":"datum.k*PI/8","as":"a"}],
"encoding":{"x":{"field":"x","type":"quantitative","axis":null,"scale":{"domain":[-33.49,30.51]}},"y":{"field":"y","type":"quantitative","axis":null,"scale":{"domain":[-29.6,28.46]}}},
"layer":[
{"transform":[{"filter":"datum.s==1"},{"calculate":"[5,10,15,20]","as":"l"},{"flatten":["l"]},{"calculate":"datum.l*sin(datum.a)","as":"x"},{"calculate":"datum.l*cos(datum.a)","as":"y"}],"mark":{"type":"line","interpolate":"linear-closed","color":"#d9d9d9","strokeWidth":1.25},"encoding":{"detail":{"field":"l","type":"nominal"},"order":{"field":"k","type":"quantitative"}}},
{"transform":[{"calculate":"datum.v*sin(datum.a)","as":"x"},{"calculate":"datum.v*cos(datum.a)","as":"y"}],"mark":{"type":"line","interpolate":"linear-closed","strokeWidth":3.5},"encoding":{"color":{"field":"s","type":"nominal","legend":null,"scale":{"domain":[1,2,3,4,5,6],"range":["#4472C4","#ED7D31","#A5A5A5","#FFC000","#5B9BD5","#70AD47"]}},"order":{"field":"k","type":"quantitative"}}},
{"transform":[{"filter":"datum.s==1 && datum.d=='N'"},{"calculate":"[0,5,10,15,20]","as":"l"},{"flatten":["l"]},{"calculate":"0","as":"x"},{"calculate":"datum.l","as":"y"},{"calculate":"datum.l+'%'","as":"t"}],"mark":{"type":"text","align":"right","baseline":"middle","dx":-19,"dy":2,"fontSize":17,"color":"#595959","font":"Open Sans"},"encoding":{"text":{"field":"t"}}},
{"transform":[{"filter":"datum.s==1"},{"calculate":"sin(datum.a)>0.01?1:(sin(datum.a)<-0.01?-1:0)","as":"sg"},{"calculate":"20*sin(datum.a)+datum.sg*(8+4.7*length(datum.d))*20/175","as":"x"},{"calculate":"20*cos(datum.a)+(datum.sg==0?19.5:6)*cos(datum.a)*20/175","as":"y"}],"mark":{"type":"text","align":"center","baseline":"middle","fontSize":16,"fontWeight":"bold","color":"#595959","font":"Open Sans"},"encoding":{"text":{"field":"d"}}},
{"transform":[{"filter":"datum.s==1 && datum.d=='N'"},{"calculate":"0","as":"x"},{"calculate":"22.97","as":"y"},{"calculate":"'l'","as":"t"}],"mark":{"type":"text","align":"center","baseline":"alphabetic","dx":-22,"fontSize":31,"fontWeight":"bold","color":"#595959","font":"Open Sans"},"encoding":{"text":{"field":"t"}}}
]}
]}
]
}
